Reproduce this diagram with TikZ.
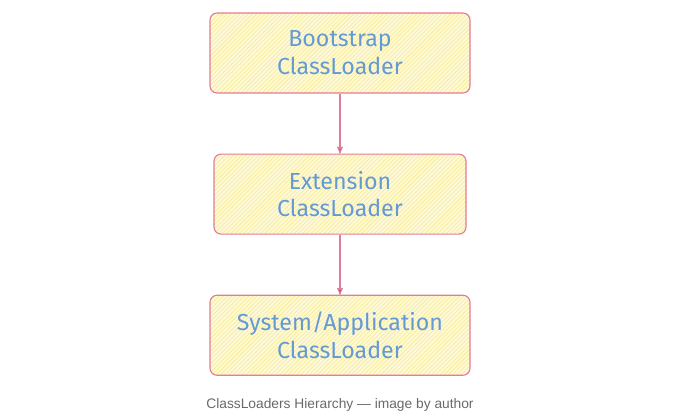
\documentclass[tikz,border=0pt]{standalone}
\usepackage{fontspec}
\setmainfont{Fira Sans}
\newfontfamily\captionfont{Liberation Sans}
\usepackage{tikz}
\usetikzlibrary{arrows,positioning,patterns}
\definecolor{boxpink}{RGB}{226,124,152}
\definecolor{boxyellow}{RGB}{255,250,214}
\definecolor{hatchyellow}{RGB}{244,232,150}
\definecolor{textblue}{RGB}{100,154,212}
\definecolor{captiongrey}{RGB}{105,105,105}
\tikzset{
    %Define standard arrow tip
    >=stealth',
    %Define style for boxes
    loaderbox/.style={
           rectangle,
           rounded corners=5pt,
           draw=boxpink, thick,
           preaction={fill=boxyellow},
           pattern=north east lines, pattern color=hatchyellow,
           minimum width=6.5cm,
           minimum height=2cm,
           align=center,
           text=textblue,
           font=\fontsize{16.5}{19.8}\selectfont},
    % Define arrow style
    pil/.style={
           ->,
           draw=boxpink,
           thick}
}
\begin{document}
\begin{tikzpicture}[auto,node distance=1.5cm]
\useasboundingbox (0,0) rectangle (17,10.35);
 %nodes
\node[loaderbox](boot) at (8.5,9.025){Bootstrap\\ClassLoader};
\node[loaderbox, minimum width=6.3cm, below = of boot](ext){Extension\\ClassLoader};
\node[loaderbox, below = of ext](sys){System/Application\\ClassLoader};
\node[text=captiongrey, font=\captionfont\fontsize{9.8}{11}\selectfont](cap) at (8.5,0.22){ClassLoaders Hierarchy — image by author};

 \path[pil]
    (boot) edge node {} (ext)
    (ext) edge node {} (sys);

\end{tikzpicture}
\end{document}
